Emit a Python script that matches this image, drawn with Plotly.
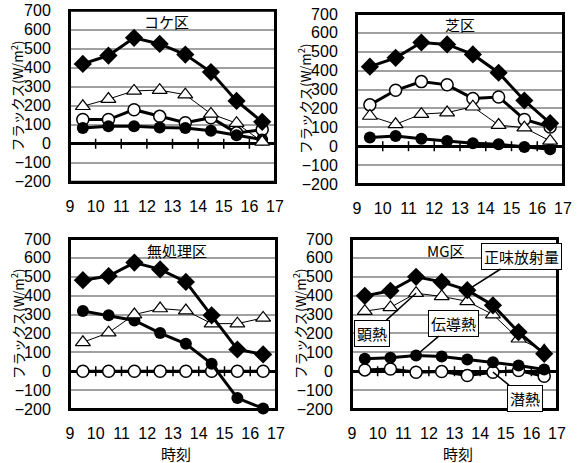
import plotly.graph_objects as go

W, H = 587, 463

times = [9.5, 10.5, 11.5, 12.5, 13.5, 14.5, 15.5, 16.5]
panel_titles = ["コケ区", "芝区", "無処理区", "MG区"]

# 正味放射量 (net radiation)
net_koke = [420, 464, 557, 525, 469, 377, 225, 115]
net_shiba = [421, 468, 549, 539, 486, 389, 242, 122]
net_none = [482, 504, 575, 539, 473, 296, 115, 89]
net_mg = [399, 426, 500, 473, 429, 349, 207, 92]

# 顕熱 (sensible heat)
sens_koke = [197, 235, 278, 282, 258, 157, 108, 10]
sens_shiba = [160, 116, 170, 178, 209, 112, 98, 28]
sens_none = [153, 204, 300, 332, 321, 252, 252, 282]
sens_mg = [318, 338, 413, 396, 370, 300, 172, 108]

# 伝導熱 (ground heat)
grd_koke = [83, 92, 92, 85, 83, 68, 45, 22]
grd_shiba = [46, 54, 40, 28, 16, 10, -4, -16]
grd_none = [319, 296, 269, 202, 145, 39, -142, -197]
grd_mg = [66, 71, 83, 78, 62, 48, 30, 9]

# 潜熱 (latent heat)
lat_koke = [127, 127, 179, 144, 110, 137, 57, 74]
lat_shiba = [219, 296, 342, 325, 253, 261, 142, 102]
lat_none = [0, 0, 0, 0, 0, 0, 0, 0]
lat_mg = [7, 12, -5, -2, -23, -5, 4, -27]

y_ticks = [700, 600, 500, 400, 300, 200, 100, 0, -100, -200]
x_ticks = [9, 10, 11, 12, 13, 14, 15, 16, 17]
y_title = "フラックス(W/m<sup>2</sup>)"
x_title = "時刻"

panels = [
    dict(net=net_koke, sens=sens_koke, grd=grd_koke, lat=lat_koke),
    dict(net=net_shiba, sens=sens_shiba, grd=grd_shiba, lat=lat_shiba),
    dict(net=net_none, sens=sens_none, grd=grd_none, lat=lat_none),
    dict(net=net_mg, sens=sens_mg, grd=grd_mg, lat=lat_mg),
]

# pixel boxes of each plot area: (left, right, top, bottom)
boxes = [(70, 275, 10.7, 181.7), (357, 563, 14, 184), (70, 276, 239, 409), (352, 557, 239, 409)]
title_xfrac = [0.473, 0.5, 0.52, 0.46]
ytitle_x = [17, 304, 17, 299]

NUM_FONT = "Liberation Sans, Arial, sans-serif"
JP_FONT = "Noto Sans CJK JP, sans-serif"

fig = go.Figure()
layout = dict(width=W, height=H, margin=dict(l=0, r=0, t=0, b=0, pad=0, autoexpand=False),
              paper_bgcolor="white", plot_bgcolor="white", showlegend=False)
annotations = []
shapes = []

YMIN, YMAX = -200, 700

for i, (p, box) in enumerate(zip(panels, boxes)):
    n = i + 1
    xa = "x" if n == 1 else f"x{n}"
    ya = "y" if n == 1 else f"y{n}"
    l, r, t, b = box
    xd = [l / W, r / W]
    yd = [1 - b / H, 1 - t / H]

    common = dict(x=times, xaxis=xa, yaxis=ya, cliponaxis=False)
    fig.add_trace(go.Scatter(y=p["lat"], mode="lines+markers",
                             line=dict(color="black", width=3),
                             marker=dict(symbol="circle", size=12, color="white",
                                         line=dict(color="black", width=1.5)), **common))
    fig.add_trace(go.Scatter(y=p["grd"], mode="lines+markers",
                             line=dict(color="black", width=3),
                             marker=dict(symbol="circle", size=12, color="black"), **common))
    fig.add_trace(go.Scatter(y=p["sens"], mode="lines+markers",
                             line=dict(color="black", width=1),
                             marker=dict(symbol="triangle-up", size=13, color="white",
                                         line=dict(color="black", width=1.2)), **common))
    fig.add_trace(go.Scatter(y=p["net"], mode="lines+markers",
                             line=dict(color="black", width=3),
                             marker=dict(symbol="diamond", size=14, color="black"), **common))

    layout[f"xaxis{'' if n == 1 else n}"] = dict(
        domain=xd, anchor=ya, range=[9, 17], tickvals=x_ticks,
        ticks="outside", ticklen=9, tickcolor="rgba(0,0,0,0)",
        showgrid=False, zeroline=False, showline=True, mirror=True,
        linecolor="black", linewidth=2, automargin=False,
        tickfont=dict(family=NUM_FONT, size=16, color="black"))
    layout[f"yaxis{'' if n == 1 else n}"] = dict(
        domain=yd, anchor=xa, range=[YMIN, YMAX], tickvals=y_ticks,
        ticks="outside", ticklen=14, tickcolor="rgba(0,0,0,0)",
        showgrid=True, gridcolor="#a0a0a0", gridwidth=1.5,
        zeroline=True, zerolinecolor="black", zerolinewidth=2.5,
        showline=True, mirror=True, linecolor="black", linewidth=2,
        automargin=False,
        tickfont=dict(family=NUM_FONT, size=16, color="black"))

    # frame around the plot area
    shapes.append(dict(type="rect", xref="paper", yref="paper",
                       x0=xd[0], x1=xd[1], y0=yd[0], y1=yd[1],
                       line=dict(color="black", width=2), layer="above"))
    # cross ticks along the zero line
    for xv in x_ticks[1:-1]:
        shapes.append(dict(type="line", xref=xa, yref=ya, x0=xv, x1=xv,
                           ysizemode="pixel", yanchor=0, y0=-5, y1=5,
                           line=dict(color="black", width=1.5), layer="below"))

    annotations.append(dict(text=panel_titles[i], xref=f"{xa} domain", yref=f"{ya} domain",
                            x=title_xfrac[i], y=1 - 11 / (b - t), showarrow=False,
                            xanchor="center", yanchor="middle",
                            font=dict(family=JP_FONT, size=15, color="black")))
    annotations.append(dict(text=y_title, xref="paper", yref="paper",
                            x=ytitle_x[i] / W, y=(yd[0] + yd[1]) / 2, textangle=-90,
                            showarrow=False, xanchor="center", yanchor="middle",
                            font=dict(family=JP_FONT, size=13.5, color="black")))
    if n >= 3:
        annotations.append(dict(text=x_title, xref="paper", yref="paper",
                                x=((l + r) / 2 + 3) / W, y=1 - 453 / H, showarrow=False,
                                xanchor="center", yanchor="middle",
                                font=dict(family=JP_FONT, size=15, color="black")))

# series labels in the MG panel
labels = [
    ("正味放射量", times[4], net_mg[4], 15.6, 610),
    ("顕熱", times[2], sens_mg[2], 9.78, 202),
    ("伝導熱", times[2], grd_mg[2], 12.98, 255),
    ("潜熱", times[5], lat_mg[5], 15.76, -142),
]
for txt, x0, y0, tx, ty in labels:
    annotations.append(dict(text=txt, x=x0, y=y0, xref="x4", yref="y4",
                            ax=tx, ay=ty, axref="x4", ayref="y4",
                            showarrow=True, arrowhead=0, arrowwidth=1.5, arrowcolor="black",
                            bgcolor="white", bordercolor="black", borderwidth=1, borderpad=2,
                            font=dict(family=JP_FONT, size=15, color="black")))

layout["annotations"] = annotations
layout["shapes"] = shapes
fig.update_layout(**layout)
fig.write_html("out.html", config={"displayModeBar": False},
               post_script="document.body.style.margin='0px';")
